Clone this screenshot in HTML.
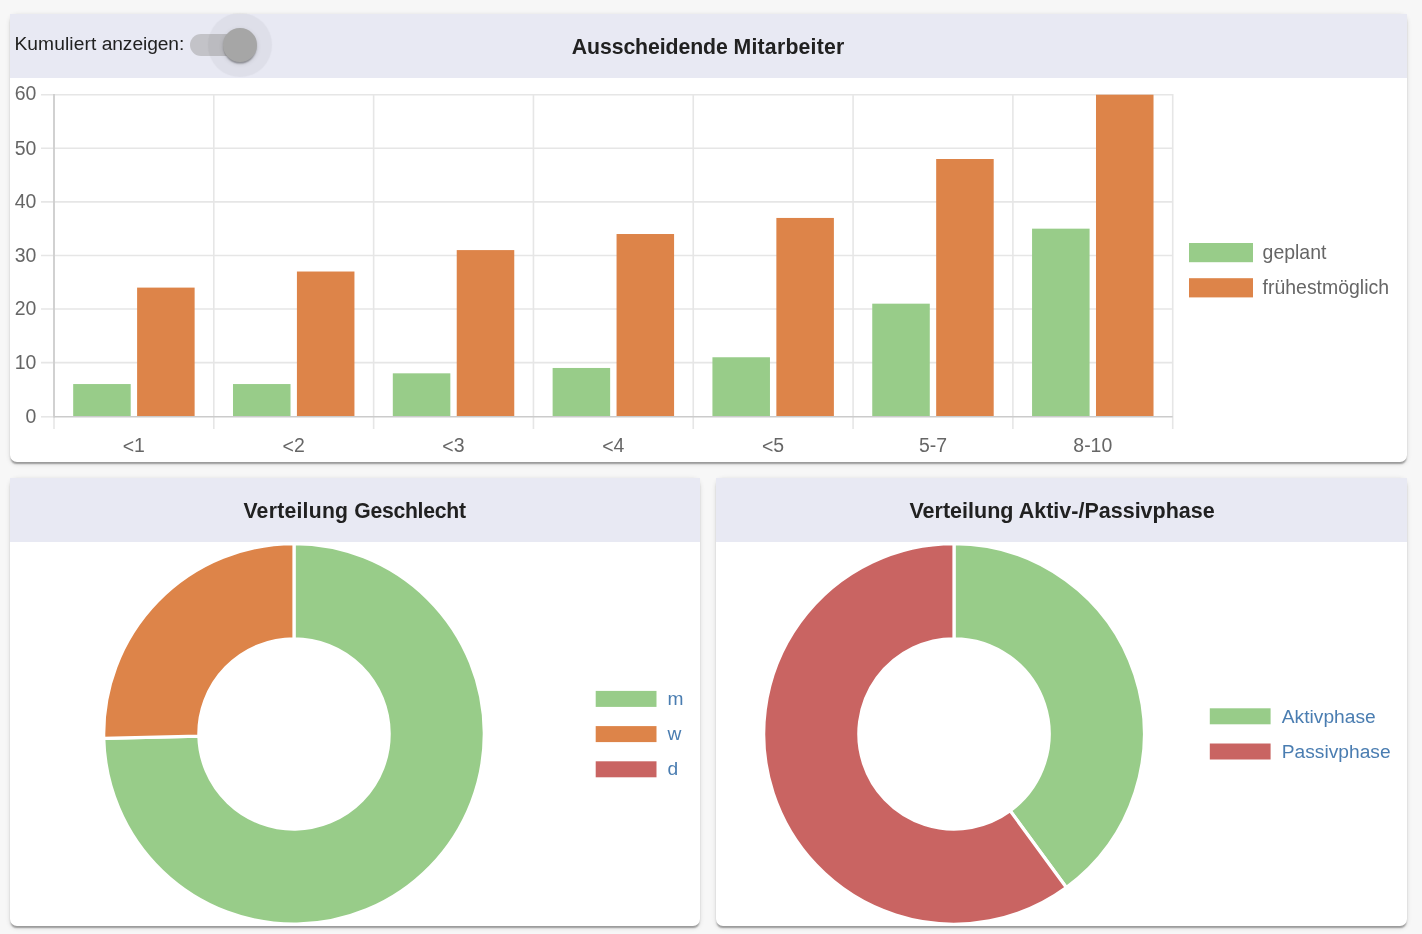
<!DOCTYPE html>
<html lang="de">
<head>
<meta charset="utf-8">
<title>Dashboard</title>
<style>
html,body{margin:0;padding:0;}
body{width:1422px;height:934px;overflow:hidden;background:#f7f7f7;font-family:"Liberation Sans",sans-serif;position:relative;color:#212121;}
.card{position:absolute;background:#fff;border-radius:7px;box-shadow:0 3.2px 1.6px -1.6px rgba(0,0,0,.2), 0 1.6px 1.6px 0 rgba(0,0,0,.14), 0 1.6px 4.8px 0 rgba(0,0,0,.12);}
.head{position:absolute;left:0;top:0;right:0;height:64px;background:#e8e9f3;}
.title{position:absolute;left:0;right:0;top:0.9px;height:64px;line-height:64px;text-align:center;font-weight:bold;font-size:22px;white-space:nowrap;color:#212121;}
.title>span{display:inline-block;}
.lbl{position:absolute;left:4.4px;top:-2.4px;height:64px;line-height:64px;font-size:19.2px;white-space:nowrap;color:#212121;}
.ripple{position:absolute;left:198px;top:-1px;width:64px;height:64px;border-radius:50%;background:rgba(0,0,0,.04);box-shadow:0 0 2px rgba(0,0,0,.03);}
.track{position:absolute;left:180px;top:19.8px;width:57.6px;height:22.4px;border-radius:11.2px;background:#c3c3c8;}
.thumb{position:absolute;left:213.2px;top:14.2px;width:33.6px;height:33.6px;border-radius:50%;background:#a6a6a6;box-shadow:0 3.2px 1.6px -1.6px rgba(0,0,0,.2),0 1.6px 1.6px 0 rgba(0,0,0,.14),0 1.6px 4.8px 0 rgba(0,0,0,.12);}
svg{position:absolute;left:0;top:0;}
.tk{font-family:"Liberation Sans",sans-serif;font-size:19.45px;fill:#666;}
.lg{font-family:"Liberation Sans",sans-serif;font-size:19.2px;fill:#4a7db1;}
</style>
</head>
<body>
<div class="card" id="c1" style="left:10px;top:14px;width:1397.3px;height:448px;">
  <div class="head"></div>
  <div class="lbl" id="lbl"><span><span style="letter-spacing:.1px">Kumuliert</span> <span style="letter-spacing:-.08px">anzeigen:</span></span></div>
  <div class="track"></div>
  <div class="ripple"></div>
  <div class="thumb"></div>
  <div class="title"><span id="t1" style="transform:scaleX(.966)"><span style="letter-spacing:-.1px">Ausscheidende</span> <span style="letter-spacing:.22px">Mitarbeiter</span></span></div>
</div>
<div class="card" id="c2" style="left:10px;top:478px;width:690px;height:448px;">
  <div class="head"></div>
  <div class="title"><span id="t2" style="transform:scaleX(.962)"><span style="letter-spacing:.27px">Verteilung</span> <span style="letter-spacing:-.27px">Geschlecht</span></span></div>
</div>
<div class="card" id="c3" style="left:716px;top:478px;width:691.3px;height:448px;">
  <div class="head"></div>
  <div class="title"><span id="t3" style="transform:scaleX(.978)">Verteilung Aktiv-/Passivphase</span></div>
</div>
<svg width="1422" height="934" viewBox="0 0 1422 934">
<g id="barchart">
<line x1="41" x2="1172.7" y1="362.62" y2="362.62" stroke="#e6e6e6" stroke-width="1.6"/>
<line x1="41" x2="1172.7" y1="309.03" y2="309.03" stroke="#e6e6e6" stroke-width="1.6"/>
<line x1="41" x2="1172.7" y1="255.45" y2="255.45" stroke="#e6e6e6" stroke-width="1.6"/>
<line x1="41" x2="1172.7" y1="201.87" y2="201.87" stroke="#e6e6e6" stroke-width="1.6"/>
<line x1="41" x2="1172.7" y1="148.28" y2="148.28" stroke="#e6e6e6" stroke-width="1.6"/>
<line x1="41" x2="1172.7" y1="94.70" y2="94.70" stroke="#e6e6e6" stroke-width="1.6"/>
<line x1="54.00" x2="54.00" y1="93.90" y2="429" stroke="#e6e6e6" stroke-width="1.6"/>
<line x1="54.00" x2="54.00" y1="93.90" y2="417.60" stroke="#cbcbcb" stroke-width="1.6"/>
<line x1="213.81" x2="213.81" y1="93.90" y2="429" stroke="#e6e6e6" stroke-width="1.6"/>
<line x1="373.63" x2="373.63" y1="93.90" y2="429" stroke="#e6e6e6" stroke-width="1.6"/>
<line x1="533.44" x2="533.44" y1="93.90" y2="429" stroke="#e6e6e6" stroke-width="1.6"/>
<line x1="693.26" x2="693.26" y1="93.90" y2="429" stroke="#e6e6e6" stroke-width="1.6"/>
<line x1="853.07" x2="853.07" y1="93.90" y2="429" stroke="#e6e6e6" stroke-width="1.6"/>
<line x1="1012.89" x2="1012.89" y1="93.90" y2="429" stroke="#e6e6e6" stroke-width="1.6"/>
<line x1="1172.70" x2="1172.70" y1="93.90" y2="429" stroke="#e6e6e6" stroke-width="1.6"/>
<rect x="73.18" y="384.05" width="57.53" height="32.15" fill="#98cc89"/>
<rect x="137.10" y="287.60" width="57.53" height="128.60" fill="#dd8449"/>
<rect x="232.99" y="384.05" width="57.53" height="32.15" fill="#98cc89"/>
<rect x="296.92" y="271.52" width="57.53" height="144.68" fill="#dd8449"/>
<rect x="392.81" y="373.33" width="57.53" height="42.87" fill="#98cc89"/>
<rect x="456.73" y="250.09" width="57.53" height="166.11" fill="#dd8449"/>
<rect x="552.62" y="367.97" width="57.53" height="48.23" fill="#98cc89"/>
<rect x="616.55" y="234.02" width="57.53" height="182.18" fill="#dd8449"/>
<rect x="712.43" y="357.26" width="57.53" height="58.94" fill="#98cc89"/>
<rect x="776.36" y="217.94" width="57.53" height="198.26" fill="#dd8449"/>
<rect x="872.25" y="303.67" width="57.53" height="112.53" fill="#98cc89"/>
<rect x="936.17" y="159.00" width="57.53" height="257.20" fill="#dd8449"/>
<rect x="1032.06" y="228.66" width="57.53" height="187.54" fill="#98cc89"/>
<rect x="1095.99" y="94.70" width="57.53" height="321.50" fill="#dd8449"/>
<line x1="41" x2="54.0" y1="416.80" y2="416.80" stroke="#e6e6e6" stroke-width="1.6"/>
<line x1="53.2" x2="1172.7" y1="416.80" y2="416.80" stroke="#cbcbcb" stroke-width="1.6"/>
<text x="36.3" y="422.50" text-anchor="end" class="tk">0</text>
<text x="36.3" y="368.92" text-anchor="end" class="tk">10</text>
<text x="36.3" y="315.33" text-anchor="end" class="tk">20</text>
<text x="36.3" y="261.75" text-anchor="end" class="tk">30</text>
<text x="36.3" y="208.17" text-anchor="end" class="tk">40</text>
<text x="36.3" y="154.58" text-anchor="end" class="tk">50</text>
<text x="36.3" y="100.00" text-anchor="end" class="tk">60</text>
<text x="133.81" y="452.2" text-anchor="middle" class="tk"><tspan dy="0.9">&lt;</tspan><tspan dy="-0.9">1</tspan></text>
<text x="293.62" y="452.2" text-anchor="middle" class="tk"><tspan dy="0.9">&lt;</tspan><tspan dy="-0.9">2</tspan></text>
<text x="453.44" y="452.2" text-anchor="middle" class="tk"><tspan dy="0.9">&lt;</tspan><tspan dy="-0.9">3</tspan></text>
<text x="613.25" y="452.2" text-anchor="middle" class="tk"><tspan dy="0.9">&lt;</tspan><tspan dy="-0.9">4</tspan></text>
<text x="773.06" y="452.2" text-anchor="middle" class="tk"><tspan dy="0.9">&lt;</tspan><tspan dy="-0.9">5</tspan></text>
<text x="932.98" y="452.2" text-anchor="middle" class="tk">5-7</text>
<text x="1092.79" y="452.2" text-anchor="middle" class="tk">8-10</text>
<rect x="1189" y="243" width="64" height="19.2" fill="#98cc89"/>
<rect x="1189" y="278.2" width="64" height="19.2" fill="#dd8449"/>
<text x="1262.6" y="258.6" class="tk">geplant</text>
<text x="1262.6" y="293.8" class="tk">frühestmöglich</text>
</g>
<g id="donut1">
<path d="M294.00 543.60 A190.3 190.3 0 1 1 103.75 738.44 L198.88 736.17 A95.15 95.15 0 1 0 294.00 638.75Z" fill="#98cc89" stroke="#fff" stroke-width="3.2" stroke-linejoin="round"/>
<path d="M103.75 738.44 A190.3 190.3 0 0 1 294.00 543.60 L294.00 638.75 A95.15 95.15 0 0 0 198.88 736.17Z" fill="#dd8449" stroke="#fff" stroke-width="3.2" stroke-linejoin="round"/>
<rect x="594.1" y="689.3" width="64" height="19.2" fill="#98cc89" stroke="#fff" stroke-width="3.2"/>
<text x="667.6" y="704.5" class="lg">m</text>
<rect x="594.1" y="724.5" width="64" height="19.2" fill="#dd8449" stroke="#fff" stroke-width="3.2"/>
<text x="667.6" y="739.7" class="lg">w</text>
<rect x="594.1" y="759.7" width="64" height="19.2" fill="#c96462" stroke="#fff" stroke-width="3.2"/>
<text x="667.6" y="774.9" class="lg">d</text>
</g>
<g id="donut2">
<path d="M954.00 543.60 A190.3 190.3 0 0 1 1066.34 887.50 L1010.17 810.70 A95.15 95.15 0 0 0 954.00 638.75Z" fill="#98cc89" stroke="#fff" stroke-width="3.2" stroke-linejoin="round"/>
<path d="M1066.34 887.50 A190.3 190.3 0 1 1 954.00 543.60 L954.00 638.75 A95.15 95.15 0 1 0 1010.17 810.70Z" fill="#c96462" stroke="#fff" stroke-width="3.2" stroke-linejoin="round"/>
<rect x="1208.2" y="706.7" width="64" height="19.2" fill="#98cc89" stroke="#fff" stroke-width="3.2"/>
<text x="1281.8" y="722.6" class="lg">Aktivphase</text>
<rect x="1208.2" y="741.9" width="64" height="19.2" fill="#c96462" stroke="#fff" stroke-width="3.2"/>
<text x="1281.8" y="757.8" class="lg">Passivphase</text>
</g>
</svg>
</body>
</html>
